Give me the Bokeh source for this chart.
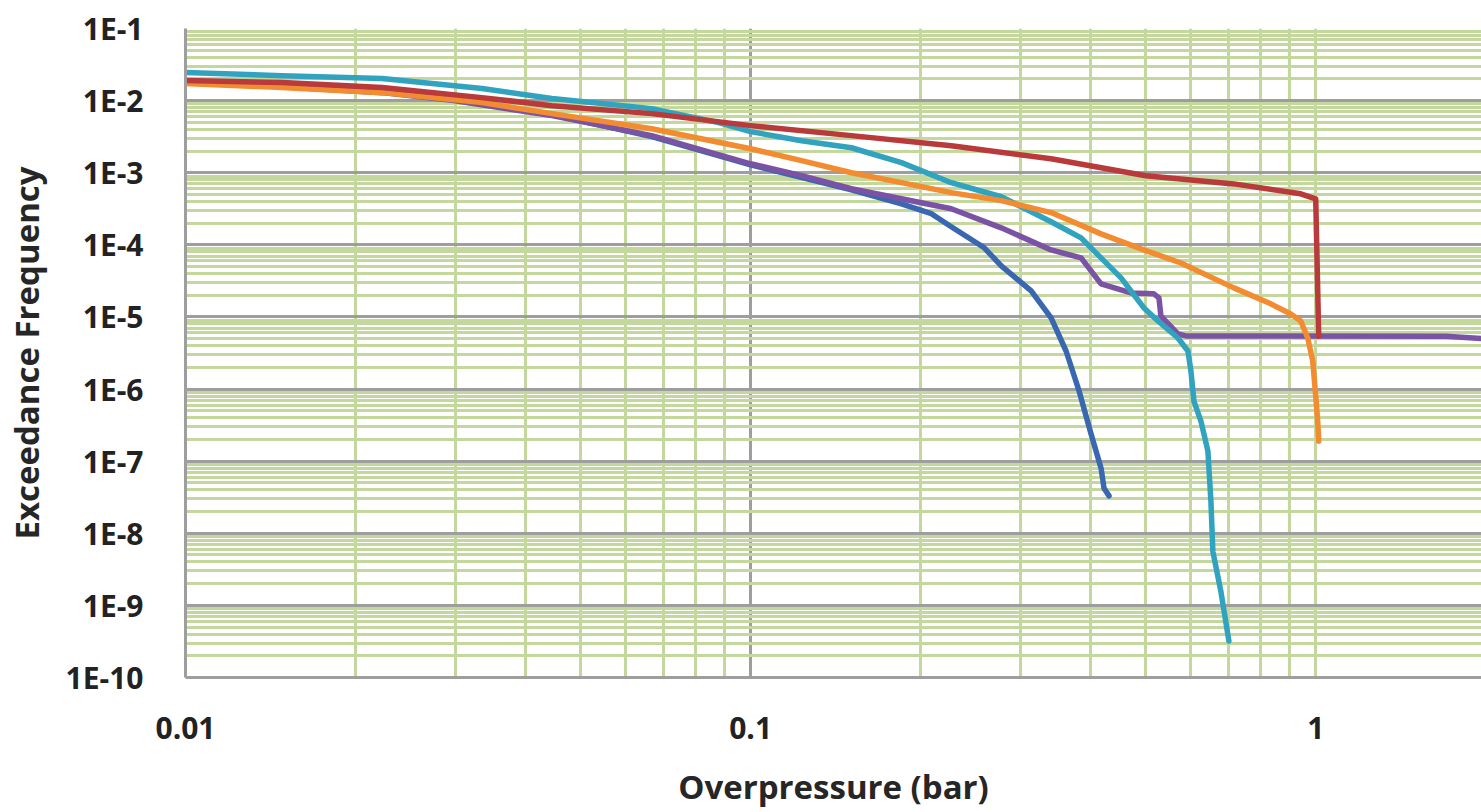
from bokeh.plotting import figure
from bokeh.models import FixedTicker, CustomJSTickFormatter, Range1d
from bokeh.embed import file_html
from bokeh.resources import INLINE

# ---- data ----
red_x = [0.01, 0.01484, 0.02228, 0.03347, 0.04451, 0.06685, 0.1, 0.1508, 0.2265, 0.3402, 0.5006, 0.7164, 0.9408, 1.0, 1.0123]
red_y = [1.90e-2, 1.78e-2, 1.52e-2, 1.10e-2, 8.5e-3, 6.6e-3, 4.5e-3, 3.27e-3, 2.37e-3, 1.56e-3, 9.1e-4, 7.0e-4, 5.1e-4, 4.35e-4, 5.4e-6]

teal_x = [0.01, 0.01484, 0.02228, 0.03347, 0.04451, 0.06685, 0.08779, 0.1, 0.1231, 0.1508, 0.1849, 0.2265, 0.2777, 0.3402,
          0.3844, 0.4170, 0.4524, 0.4967, 0.5258, 0.5704, 0.5941, 0.6014, 0.6088, 0.6264, 0.6445, 0.6524, 0.6577, 0.6795, 0.7021]
teal_y = [2.45e-2, 2.22e-2, 2.02e-2, 1.47e-2, 1.07e-2, 7.74e-3, 4.95e-3, 3.71e-3, 2.78e-3, 2.22e-3, 1.38e-3, 7.27e-4, 4.64e-4, 2.09e-4,
          1.25e-4, 6.6e-5, 3.48e-5, 1.33e-5, 8.8e-6, 5.1e-6, 3.37e-6, 1.78e-6, 6.8e-7, 3.6e-7, 1.38e-7, 2.8e-8, 5.6e-9, 1.56e-9, 3.2e-10]

orange_x = [0.01, 0.01484, 0.02228, 0.03347, 0.04451, 0.06685, 0.1, 0.1231, 0.1508, 0.1849, 0.2265, 0.2777, 0.3402, 0.4170,
            0.4907, 0.5773, 0.7164, 0.8328, 0.9034, 0.9408, 0.9680, 0.9879, 1.0, 1.0081, 1.0123]
orange_y = [1.72e-2, 1.52e-2, 1.29e-2, 9.4e-3, 6.6e-3, 4.08e-3, 2.15e-3, 1.47e-3, 1.0e-3, 7.3e-4, 5.3e-4, 4.1e-4, 2.8e-4, 1.42e-4,
            8.8e-5, 5.6e-5, 2.53e-5, 1.52e-5, 1.1e-5, 8.8e-6, 5.1e-6, 2.45e-6, 8.0e-7, 3.6e-7, 1.9e-7]

purple_x = [0.01, 0.01484, 0.02228, 0.02982, 0.04451, 0.06685, 0.1, 0.1231, 0.1508, 0.1849, 0.2265, 0.2777, 0.3402, 0.3844,
            0.4170, 0.4711, 0.5172, 0.5279, 0.5322, 0.5704, 0.5892, 1.7, 1.965]
purple_y = [1.78e-2, 1.56e-2, 1.29e-2, 1.0e-2, 6.2e-3, 3.27e-3, 1.33e-3, 9.1e-4, 6.0e-4, 4.35e-4, 3.16e-4, 1.72e-4, 8.5e-5, 6.6e-5,
            2.87e-5, 2.15e-5, 2.09e-5, 1.84e-5, 1.03e-5, 5.8e-6, 5.45e-6, 5.4e-6, 5.0e-6]

blue_x = [0.01, 0.01484, 0.02228, 0.02982, 0.04451, 0.06685, 0.1, 0.1508, 0.1849, 0.2089, 0.2265, 0.2591, 0.2777, 0.3137,
          0.3402, 0.3616, 0.3813, 0.4005, 0.4170, 0.4221, 0.4308]
blue_y = [1.84e-2, 1.62e-2, 1.33e-2, 1.03e-2, 6.4e-3, 3.16e-3, 1.29e-3, 5.8e-4, 3.7e-4, 2.7e-4, 1.78e-4, 9.1e-5, 5.1e-5, 2.3e-5,
          9.7e-6, 3.37e-6, 9.4e-7, 2.37e-7, 8.0e-8, 4.2e-8, 3.3e-8]

x_ticks = [0.01, 0.1, 1]
y_ticks = [1e-10, 1e-9, 1e-8, 1e-7, 1e-6, 1e-5, 1e-4, 1e-3, 1e-2, 1e-1]
x_title = "Overpressure (bar)"
y_title = "Exceedance Frequency"

# ---- figure ----
p = figure(width=1481, height=812, x_axis_type="log", y_axis_type="log",
           x_range=Range1d(0.01, 1.965), y_range=Range1d(1e-10, 1e-1),
           output_backend="svg", toolbar_location=None,
           min_border_left=183, min_border_top=28, min_border_bottom=135, min_border_right=0)
p.outline_line_color = None
p.background_fill_color = "white"

x_minor = [k * d for d in [0.01, 0.1] for k in range(2, 10)] + [1.0]
y_minor = [k * d for d in y_ticks[:-1] for k in range(2, 10)]

p.xgrid.ticker = FixedTicker(ticks=[0.1], minor_ticks=x_minor)
p.ygrid.ticker = FixedTicker(ticks=y_ticks, minor_ticks=y_minor)
for g in (p.xgrid, p.ygrid):
    g.grid_line_color = "#9E9E9E"
    g.grid_line_width = 3
    g.minor_grid_line_color = "#C4D89E"
    g.minor_grid_line_width = 3

p.xaxis.ticker = FixedTicker(ticks=x_ticks, minor_ticks=[])
p.yaxis.ticker = FixedTicker(ticks=y_ticks, minor_ticks=[])
p.xaxis.formatter = CustomJSTickFormatter(code="return String(Math.round(tick*100)/100);")
p.yaxis.formatter = CustomJSTickFormatter(code="return '1E' + Math.round(Math.log10(tick));")

for ax in (p.xaxis, p.yaxis):
    ax.axis_line_color = "#9E9E9E"
    ax.axis_line_width = 3
    ax.major_tick_line_color = None
    ax.minor_tick_line_color = None
    ax.major_label_text_font = "Open Sans"
    ax.major_label_text_font_style = "bold"
    ax.major_label_text_font_size = "30px"
    ax.major_label_text_color = "#222222"
    ax.axis_label_text_font = "Open Sans"
    ax.axis_label_text_font_style = "bold"
    ax.axis_label_text_font_size = "33px"
    ax.axis_label_text_color = "#262626"

p.xaxis.axis_label = x_title
p.yaxis.axis_label = y_title
p.xaxis.major_label_standoff = 33
p.yaxis.major_label_standoff = 36
p.xaxis.axis_label_standoff = 22
p.yaxis.axis_label_standoff = 14

lw = 5.5
p.line(blue_x, blue_y, line_color="#3A68B0", line_width=lw, line_cap="round", line_join="round")
p.line(purple_x, purple_y, line_color="#7A53A4", line_width=lw, line_cap="round", line_join="round")
p.line(teal_x, teal_y, line_color="#31A3BF", line_width=lw, line_cap="round", line_join="round")
p.line(orange_x, orange_y, line_color="#F38B30", line_width=lw, line_cap="round", line_join="round")
p.line(red_x, red_y, line_color="#B93A3A", line_width=lw, line_cap="round", line_join="round")

open("out.html", "w").write(file_html(p, INLINE))
